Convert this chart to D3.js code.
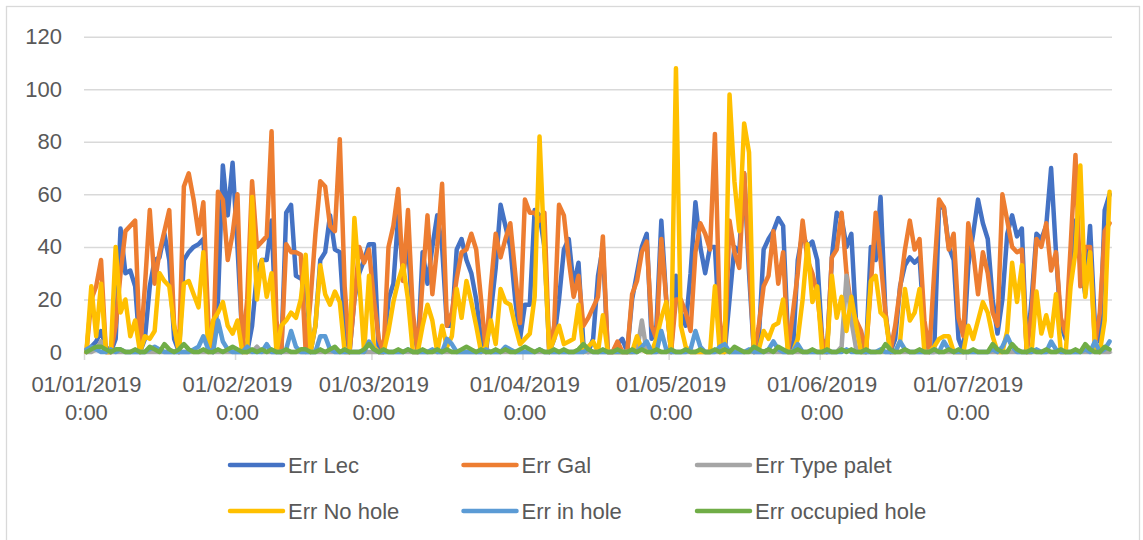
<!DOCTYPE html>
<html>
<head>
<meta charset="utf-8">
<script src="https://cdn.jsdelivr.net/npm/d3@7"></script>
<style>
  html, body { margin: 0; padding: 0; background: #ffffff; }
  svg { display: block; }
</style>
</head>
<body>
<svg id="chart" width="1143" height="540"></svg>
<script>
// Daily error counts, one value per day starting 1 January 2019 (rows = months Jan..Jul)
const startDay = "2019-01-01";

const errLec = [
  0,2,4,8,2,0,5,47,30,31,25,0,5,25,35,36,45,35,5,0,35,38,40,41,43,10,0,20,71,52,72,
  40,5,0,10,30,35,35,50,5,0,53,56,29,28,30,0,10,35,38,52,39,38,10,0,20,30,35,41,
  41,0,0,20,26,52,30,42,10,0,38,26,40,52,40,10,10,39,43,35,30,20,5,0,15,32,56,48,40,20,5,
  18,18,54,52,40,0,5,20,39,43,25,34,3,0,5,29,40,0,0,3,5,0,20,30,40,45,5,10,50,20,
  0,29,15,10,30,57,40,30,40,40,5,0,20,40,38,68,30,0,5,39,43,46,51,48,5,0,35,45,40,42,35,
  5,0,36,53,51,40,45,10,3,0,40,35,59,15,0,5,25,33,36,34,36,8,0,0,55,55,40,35,5,0,
  33,45,58,49,43,20,7,20,45,52,44,47,0,20,45,43,48,70,38,10,5,30,50,35,22,48,10,4,54,60
];

const errGal = [
  0,20,25,35,0,0,10,30,46,48,50,0,25,54,26,38,46,54,10,0,63,68,58,45,57,12,0,61,58,35,45,
  60,0,20,65,40,42,44,84,12,0,41,38,38,37,0,20,45,65,63,48,46,81,25,0,20,40,34,39,
  20,5,0,40,48,62,27,54,15,0,27,52,22,40,64,10,15,28,38,39,45,39,20,0,25,45,36,43,49,30,11,
  58,53,53,50,53,0,10,56,52,35,21,29,10,13,17,21,44,0,0,4,0,0,22,27,38,42,10,5,43,20,
  0,20,20,15,8,38,49,45,39,83,12,0,50,38,32,68,35,0,10,25,29,46,26,38,0,15,30,50,35,30,22,
  5,0,36,39,53,30,17,12,8,0,25,53,35,15,0,10,24,39,50,39,43,12,0,30,58,55,39,45,13,6,
  49,38,22,38,30,15,10,60,50,40,38,39,0,15,43,40,49,31,38,13,7,40,75,25,40,40,3,15,46,49
];

const errTypePalet = [
  0,0,1,4,0,0,0,0,0,0,0,0,0,0,0,0,0,0,0,0,0,0,0,0,0,0,0,0,0,0,0,
  0,0,0,0,2,0,0,0,0,0,0,0,0,0,0,0,0,0,0,0,0,0,0,0,0,0,0,0,
  0,0,0,0,0,0,0,0,0,0,0,0,0,0,0,0,0,0,0,0,0,0,0,0,0,0,0,0,0,0,0,
  0,0,0,0,0,0,0,0,0,0,0,0,0,0,0,0,0,0,0,0,0,0,0,0,12,0,0,0,0,0,
  0,0,0,0,0,0,0,0,0,0,0,0,0,0,0,0,0,0,0,0,0,0,0,0,0,0,0,0,0,0,0,
  0,0,0,0,2,29,12,1,0,0,0,0,0,0,0,0,0,0,0,0,0,0,0,0,0,0,0,0,0,0,
  0,0,0,0,0,0,0,0,0,0,0,0,0,0,0,0,0,0,0,0,0,0,0,0,0,0,0,0,0,0
];

const errNoHole = [
  0,25,6,26,0,0,40,15,20,6,12,0,6,5,8,30,27,25,10,0,26,27,22,17,38,0,12,15,19,10,7,
  12,0,0,59,20,35,21,30,0,10,12,15,13,20,37,0,10,33,22,18,23,19,0,0,51,27,0,29,
  2,0,0,8,19,27,33,20,0,0,10,18,12,0,10,2,6,24,13,27,19,10,0,2,12,3,24,19,18,10,3,
  5,7,21,82,38,0,5,10,3,4,5,18,0,2,4,0,14,0,0,0,0,0,0,6,1,0,0,5,13,19,
  0,108,10,2,0,0,0,0,0,25,0,0,98,65,46,87,76,0,1,8,5,10,11,20,0,0,5,20,41,19,25,
  0,0,29,13,21,8,21,10,0,0,27,29,15,13,0,0,4,24,12,15,24,0,0,2,5,6,6,0,0,0,
  10,5,12,19,15,6,0,0,8,34,19,33,0,0,23,7,14,6,22,0,0,25,38,71,21,38,2,0,12,61
];

const errInHole = [
  1,2,1,0,0,1,0,1,0,0,0,0,0,1,2,1,0,0,0,0,0,0,1,2,6,1,0,12,4,1,0,
  0,0,2,0,0,0,3,0,0,0,1,8,2,0,0,0,0,6,6,1,0,0,0,0,0,0,0,4,
  1,0,0,0,0,0,0,1,0,0,0,0,1,0,0,5,3,0,0,0,0,0,0,1,0,0,0,2,1,0,0,
  0,0,0,1,0,0,0,0,0,0,0,0,0,1,0,0,0,0,0,0,0,0,0,0,2,4,0,0,8,1,
  0,0,0,0,1,8,2,0,0,0,2,3,0,0,0,0,1,0,0,0,1,4,1,0,0,0,3,0,0,0,0,
  0,0,0,0,0,1,0,0,0,0,0,0,1,0,0,0,4,1,0,0,0,0,0,1,0,4,1,0,0,0,
  0,0,0,0,0,1,0,2,6,2,0,0,0,0,1,0,0,4,1,0,0,0,0,0,1,0,4,0,1,4
];

const errOccupiedHole = [
  0,1,2,2,1,0,1,1,0,0,1,0,0,2,1,0,3,1,0,1,3,1,0,0,1,0,0,1,0,1,2,
  1,0,0,1,0,1,0,1,0,0,1,0,0,1,1,0,0,1,0,1,2,0,1,0,0,0,1,3,
  1,0,1,0,0,1,0,1,0,0,1,0,0,1,0,1,0,0,1,2,1,0,1,0,0,1,0,1,0,0,1,
  2,1,0,1,0,0,1,0,1,0,0,1,3,1,0,0,1,0,0,1,0,0,1,0,1,0,0,1,0,0,
  1,0,0,1,0,0,1,0,0,1,0,1,0,2,1,0,0,2,1,0,1,0,2,1,0,0,1,0,0,1,0,
  0,1,0,0,1,0,1,0,0,1,0,0,0,3,1,0,0,1,0,0,1,0,0,1,0,0,1,0,1,0,
  0,1,0,0,0,3,1,0,0,3,1,0,0,1,0,0,1,0,0,1,0,0,1,0,3,1,0,0,2,1
];

const seriesNames  = ["Err Lec", "Err Gal", "Err Type palet", "Err No hole", "Err in hole", "Err occupied hole"];
const seriesColors = ["#4472C4", "#ED7D31", "#A5A5A5", "#FFC000", "#5B9BD5", "#70AD47"];
const yTickValues  = [0, 20, 40, 60, 80, 100, 120];
const monthTicks   = ["2019-01-01", "2019-02-01", "2019-03-01", "2019-04-01", "2019-05-01", "2019-06-01", "2019-07-01"];

// ---- layout ----
const FONT = "'Liberation Sans', Arial, sans-serif";
const TEXT = "#595959";
const GRID = "#D9D9D9";
const plot = { left: 84, right: 1112, top: 36.7, bottom: 352 };

const svg = d3.select("#chart");

// chart area frame
svg.append("rect")
  .attr("x", 6.5).attr("y", 6.5)
  .attr("width", 1133).attr("height", 600)
  .attr("fill", "#ffffff").attr("stroke", GRID).attr("stroke-width", 1.3);

const parseDay = d3.utcParse("%Y-%m-%d");
const start = parseDay(startDay);
const days = errLec.map((_, i) => d3.utcDay.offset(start, i));

// date axis: each day owns one slot, points sit in the middle of their slot
const x = d3.scaleUtc()
  .domain([start, d3.utcDay.offset(start, days.length)])
  .range([plot.left, plot.right]);
const mid = d => x(d3.utcHour.offset(d, 12));

const y = d3.scaleLinear().domain([0, 120]).range([plot.bottom, plot.top]);

// value axis with horizontal gridlines
svg.append("g")
  .attr("transform", `translate(${plot.left},0)`)
  .call(d3.axisLeft(y).tickValues(yTickValues)
    .tickSize(-(plot.right - plot.left)).tickPadding(22))
  .call(g => g.select(".domain").remove())
  .call(g => g.selectAll(".tick line").attr("stroke", GRID).attr("stroke-width", 1.5))
  .call(g => g.selectAll(".tick text")
    .attr("fill", TEXT).attr("font-size", 22).attr("font-family", FONT));

// date axis line and month tick marks
const monthDates = monthTicks.map(parseDay);
svg.append("g")
  .attr("transform", `translate(0,${plot.bottom})`)
  .call(d3.axisBottom(x).tickValues(monthDates).tickSize(8).tickSizeOuter(0).tickFormat(""))
  .call(g => g.select(".domain").attr("stroke", GRID).attr("stroke-width", 1.5))
  .call(g => g.selectAll(".tick line").attr("stroke", GRID).attr("stroke-width", 1.5));

// two-line month labels
const fmtDate = d3.utcFormat("%d/%m/%Y");
const fmtTime = d3.utcFormat("%-H:%M");
const labels = svg.append("g")
  .attr("font-family", FONT).attr("font-size", 22).attr("fill", TEXT)
  .attr("text-anchor", "middle");
labels.selectAll("text").data(monthDates).join("text")
  .attr("transform", d => `translate(${mid(d)},0)`)
  .call(t => t.append("tspan").attr("x", 0).attr("y", 392).text(d => fmtDate(d)))
  .call(t => t.append("tspan").attr("x", 0).attr("y", 420).text(d => fmtTime(d)));

// series lines
const seriesValues = [errLec, errGal, errTypePalet, errNoHole, errInHole, errOccupiedHole];
const line = d3.line()
  .x((v, i) => mid(days[i]))
  .y(v => y(v));

svg.append("g")
  .selectAll("path")
  .data(seriesValues)
  .join("path")
  .attr("d", vals => line(vals))
  .attr("fill", "none")
  .attr("stroke", (_, i) => seriesColors[i])
  .attr("stroke-width", 4.5)
  .attr("stroke-linejoin", "round")
  .attr("stroke-linecap", "round");

// legend: two rows of three
const legendCols = [230, 463.5, 697];
const legendRows = [465, 511];
const legend = svg.append("g").attr("font-family", FONT).attr("font-size", 22).attr("fill", TEXT);
const items = legend.selectAll("g").data(seriesNames).join("g")
  .attr("transform", (_, i) => `translate(${legendCols[i % 3]},${legendRows[Math.floor(i / 3)]})`);
items.append("line")
  .attr("x1", 0).attr("x2", 53).attr("y1", 0).attr("y2", 0)
  .attr("stroke", (_, i) => seriesColors[i])
  .attr("stroke-width", 4.5).attr("stroke-linecap", "round");
items.append("text")
  .attr("x", 58).attr("y", 8)
  .text(d => d);
</script>
</body>
</html>
